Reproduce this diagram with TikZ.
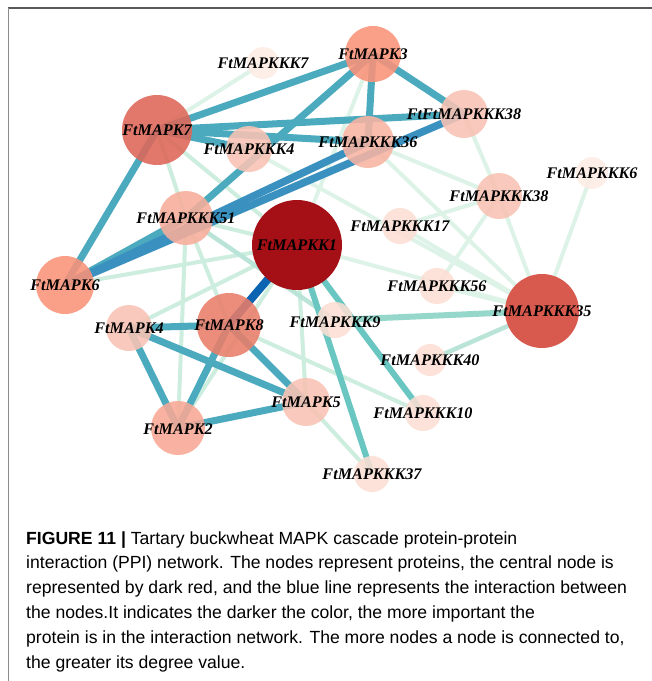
\documentclass[tikz,border=0pt]{standalone}
\usepackage{fontspec}
\setmainfont{Liberation Serif}
\newfontfamily\capfont{Liberation Sans}
\pgfdeclarelayer{bglayer}
\pgfdeclarelayer{edgelayer}
\pgfsetlayers{bglayer,edgelayer,main}
\definecolor{cKKone}{RGB}{165,15,22}
\definecolor{cKfive}{RGB}{216,90,78}
\definecolor{cSeven}{RGB}{222,102,87}
\definecolor{cEight}{RGB}{234,126,106}
\definecolor{cThree}{RGB}{250,146,120}
\definecolor{cTwo}{RGB}{249,168,148}
\definecolor{cFiftyone}{RGB}{248,174,154}
\definecolor{cThirtysix}{RGB}{248,180,162}
\definecolor{cMid}{RGB}{248,194,179}
\definecolor{cPale}{RGB}{252,222,212}
\definecolor{cVpale}{RGB}{253,236,229}
\definecolor{eTeal}{RGB}{76,170,190}
\definecolor{eBlue}{RGB}{58,145,192}
\definecolor{eDark}{RGB}{10,100,178}
\definecolor{eMed}{RGB}{105,198,193}
\definecolor{eSoft}{RGB}{150,215,203}
\definecolor{eLightT}{RGB}{185,228,215}
\definecolor{eLight}{RGB}{205,237,223}
\definecolor{eFaint}{RGB}{222,243,232}
\begin{document}
\begin{tikzpicture}[x=1pt,y=-1pt,
  prot/.style={circle,inner sep=0pt,draw=none,fill opacity=0.88,minimum size=#1},
  lab/.style={inner sep=0pt,font=\fontsize{16.2}{18}\selectfont\bfseries\itshape},
  strong/.style={eTeal,line width=7pt},
  bluee/.style={eBlue,line width=7.5pt},
  darke/.style={eDark,line width=8pt},
  mede/.style={eMed,line width=6pt},
  softe/.style={eSoft,line width=6pt},
  lightt/.style={eLightT,line width=4.5pt},
  lighte/.style={eLight,line width=4pt},
  fainte/.style={eFaint,line width=4pt},
  capline/.style={anchor=base west,inner sep=0pt,font=\capfont\fontsize{17.6}{20}\selectfont}
]
\useasboundingbox (0,0) rectangle (652,681);
\begin{pgfonlayer}{bglayer}
\fill[white] (0,0) rectangle (652,681);
\end{pgfonlayer}
% frame
\draw[black!65,line width=1.8pt] (8,8) coordinate (ftl) -- (652,8) coordinate (ftr);
\draw[black!45,line width=1pt] (ftl) -- (8,681) coordinate (fbl);

% nodes
\node[prot=70pt,fill=cSeven] (n7) at (157,130) {};
\node[prot=56pt,fill=cThree] (n3) at (373,54) {};
\node[prot=32pt,fill=cVpale] (nK7) at (263,63) {};
\node[prot=48pt,fill=cMid] (nFF38) at (464,114) {};
\node[prot=46pt,fill=cMid] (nK4) at (249,149) {};
\node[prot=52pt,fill=cThirtysix] (nK36) at (368,142) {};
\node[prot=46pt,fill=cMid] (nK38) at (499,196) {};
\node[prot=32pt,fill=cVpale] (nK6) at (592,173) {};
\node[prot=54pt,fill=cFiftyone] (nK51) at (186,218) {};
\node[prot=90pt,fill=cKKone,fill opacity=1] (nKK1) at (297,245) {};
\node[prot=36pt,fill=cPale] (nK17) at (400,226) {};
\node[prot=58pt,fill=cThree] (n6) at (65,285) {};
\node[prot=36pt,fill=cPale] (nK56) at (437,286) {};
\node[prot=74pt,fill=cKfive,fill opacity=1] (nK35) at (542,311) {};
\node[prot=46pt,fill=cMid] (n4) at (129,328) {};
\node[prot=64pt,fill=cEight] (n8) at (229,325) {};
\node[prot=36pt,fill=cPale] (nK9) at (335,320) {};
\node[prot=32pt,fill=cPale] (nK40) at (430,360) {};
\node[prot=48pt,fill=cMid] (n5) at (306,402) {};
\node[prot=36pt,fill=cPale] (nK10) at (423,413) {};
\node[prot=54pt,fill=cTwo] (n2) at (178,428) {};
\node[prot=36pt,fill=cPale] (nK37) at (372,474) {};

% edges
\begin{pgfonlayer}{edgelayer}
\foreach \a/\b in {nK36/nK38,nFF38/nK38,nK38/nK35,nK6/nK35,nK38/nK56,nK38/nK17,nK17/nK35,nK36/nK35,nK4/nK35,nKK1/nK35,nK56/nK35,nK7/n7,n3/nKK1}
  \draw[fainte] (\a.center) -- (\b.center);
\foreach \a/\b in {n7/nK51,n7/nKK1,n6/nKK1,n4/nKK1,n2/nKK1,nK51/n2,nK51/n8,nKK1/n5,n8/nK10,n5/nK37,nK51/nKK1}
  \draw[lighte] (\a.center) -- (\b.center);
\draw[lightt] (nK51.center) -- (nK9.center);
\draw[lightt] (nK40.center) -- (nK35.center);
\draw[softe] (nK9.center) -- (nK35.center);
\draw[mede] (nKK1.center) -- (nK37.center);
\draw[mede] (nKK1.center) -- (nK10.center);
\foreach \a/\b in {n7/n3,n7/nFF38,n7/nK36,n7/nK4,n7/n6,n3/nK36,n3/nFF38,n3/nK51,nK51/n6,n4/n8,n4/n2,n4/n5,n8/n2,n8/n5,n2/n5}
  \draw[strong] (\a.center) -- (\b.center);
\draw[bluee] (nK36.center) -- (n6.center);
\draw[bluee] (nFF38.center) -- (n6.center);
\draw[darke] (n8.center) -- (nKK1.center);
\end{pgfonlayer}

% labels
\node[lab] (l7) at (n7) {FtMAPK7};
\node[lab] (l3) at (n3) {FtMAPK3};
\node[lab] (lK7) at (nK7) {FtMAPKKK7};
\node[lab] (lFF38) at (nFF38) {FtFtMAPKKK38};
\node[lab] (lK4) at (nK4) {FtMAPKKK4};
\node[lab] (lK36) at (nK36) {FtMAPKKK36};
\node[lab] (lK38) at (nK38) {FtMAPKKK38};
\node[lab] (lK6) at (nK6) {FtMAPKKK6};
\node[lab] (lK51) at (nK51) {FtMAPKKK51};
\node[lab] (lKK1) at (nKK1) {FtMAPKK1};
\node[lab] (lK17) at (nK17) {FtMAPKKK17};
\node[lab] (l6) at (n6) {FtMAPK6};
\node[lab] (lK56) at (nK56) {FtMAPKKK56};
\node[lab] (lK35) at (nK35) {FtMAPKKK35};
\node[lab] (l4) at (n4) {FtMAPK4};
\node[lab] (l8) at (n8) {FtMAPK8};
\node[lab] (lK9) at ([yshift=-2pt]nK9) {FtMAPKKK9};
\node[lab] (lK40) at (nK40) {FtMAPKKK40};
\node[lab] (l5) at (n5) {FtMAPK5};
\node[lab] (lK10) at (nK10) {FtMAPKKK10};
\node[lab] (l2) at ([yshift=-1pt]n2) {FtMAPK2};
\node[lab] (lK37) at (nK37) {FtMAPKKK37};

% caption
\node[capline] (c1) at (26,544) {\textbf{FIGURE 11 |} Tartary buckwheat MAPK cascade protein-protein};
\node[capline] (c2) at (26,568.8) {interaction (PPI) network. The nodes represent proteins, the central node is};
\node[capline] (c3) at (26,593.6) {represented by dark red, and the blue line represents the interaction between};
\node[capline] (c4) at (26,618.4) {the nodes.It indicates the darker the color, the more important the};
\node[capline] (c5) at (26,643.2) {protein is in the interaction network. The more nodes a node is connected to,};
\node[capline] (c6) at (26,668) {the greater its degree value.};
\end{tikzpicture}
\end{document}
